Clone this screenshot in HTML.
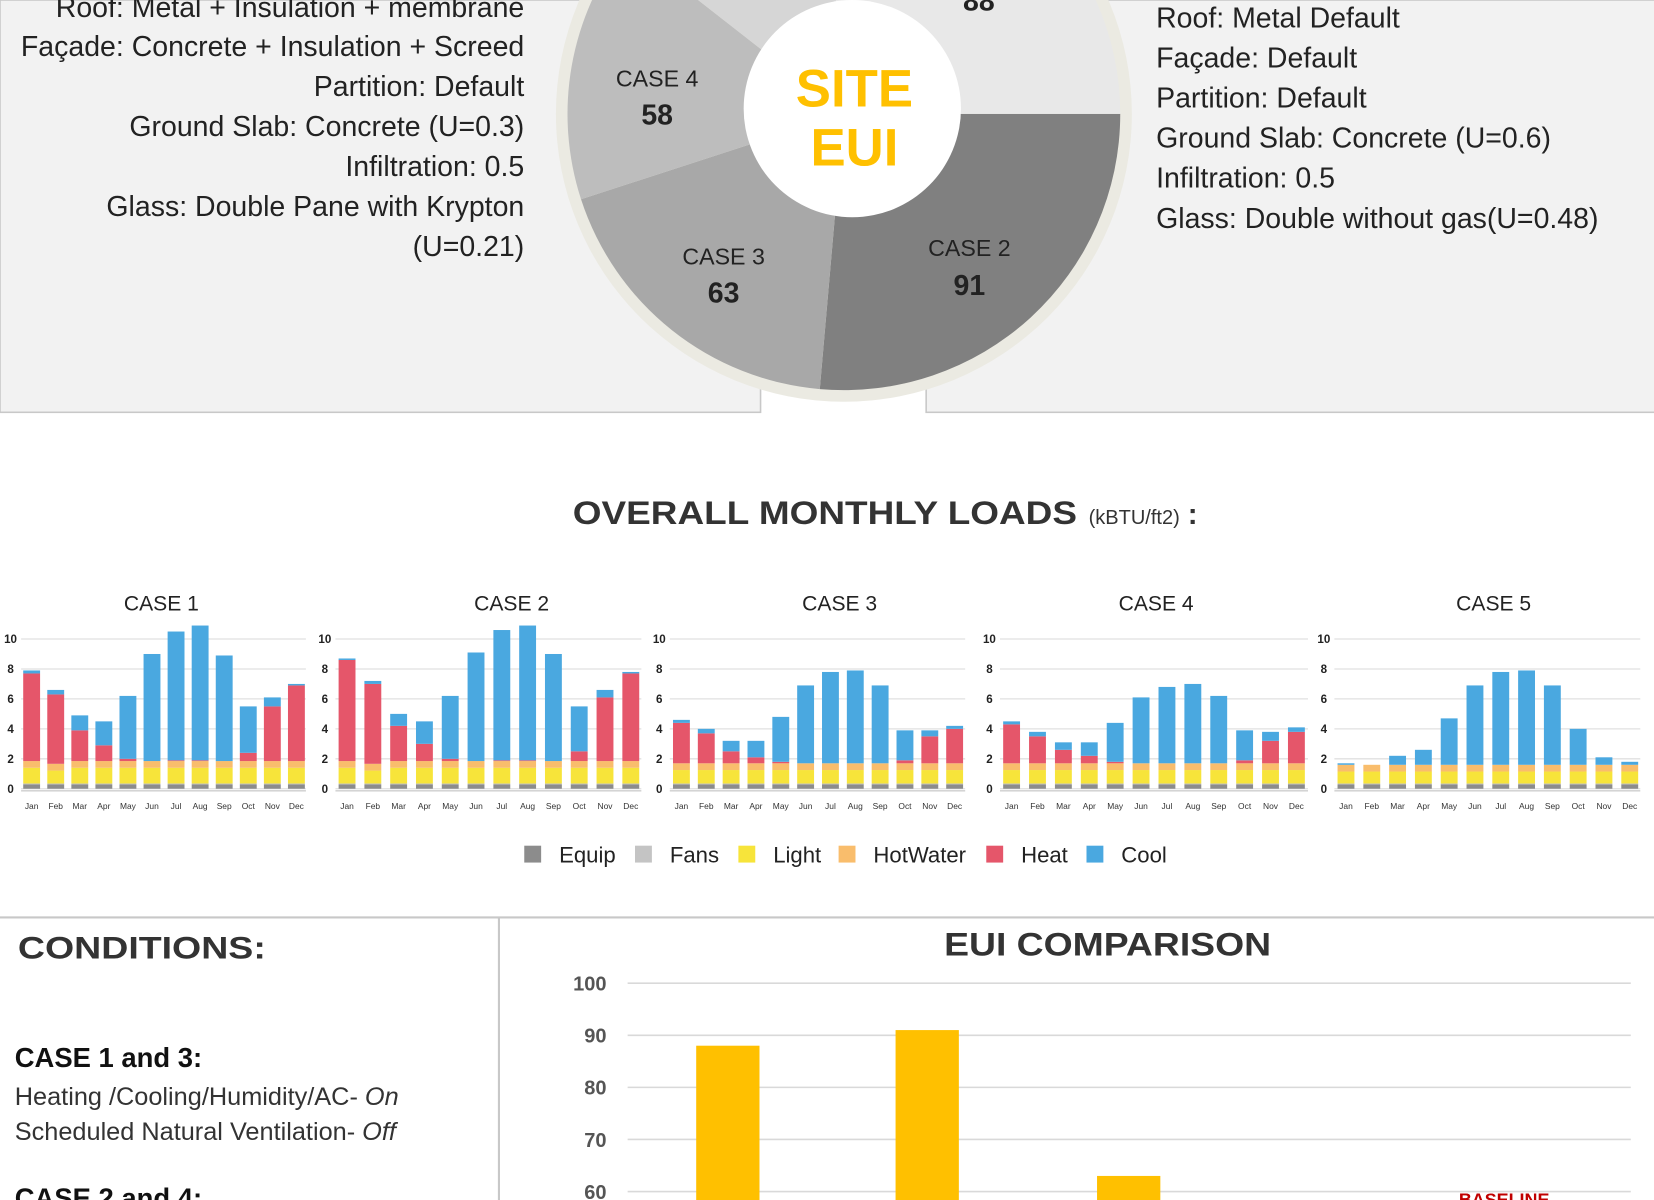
<!DOCTYPE html>
<html><head><meta charset="utf-8"><style>
html,body{margin:0;padding:0;background:#fff;overflow:hidden}
svg{display:block}
text{font-family:"Liberation Sans",sans-serif}
</style></head><body>
<svg id="s" width="1654" height="1200" viewBox="0 0 1568 1138" preserveAspectRatio="none" xmlns="http://www.w3.org/2000/svg">
<rect x="0" y="0" width="1568" height="1138" fill="#fff"/>
<rect x="0" y="0" width="721" height="391" fill="#f2f2f2" stroke="#c8c8c8" stroke-width="1.5"/>
<rect x="878" y="0" width="700" height="391" fill="#f2f2f2" stroke="#c8c8c8" stroke-width="1.5"/>
<g font-size="27" fill="#222" text-anchor="end">
<text x="497" y="16">Roof: Metal + Insulation + membrane</text>
<text x="497" y="53">Façade: Concrete + Insulation + Screed</text>
<text x="497" y="91">Partition: Default</text>
<text x="497" y="129">Ground Slab: Concrete (U=0.3)</text>
<text x="497" y="167">Infiltration: 0.5</text>
<text x="497" y="205">Glass: Double Pane with Krypton</text>
<text x="497" y="243">(U=0.21)</text>
</g>
<g font-size="27" fill="#222">
<text x="1096" y="26">Roof: Metal Default</text>
<text x="1096" y="64">Façade: Default</text>
<text x="1096" y="102">Partition: Default</text>
<text x="1096" y="140">Ground Slab: Concrete (U=0.6)</text>
<text x="1096" y="178">Infiltration: 0.5</text>
<text x="1096" y="216">Glass: Double without gas(U=0.48)</text>
</g>
<circle cx="800" cy="108" r="273" fill="#ebeae2"/>
<g id="pie"></g>
<circle cx="808" cy="103" r="103" fill="#fff"/>
<g font-family="Liberation Sans" font-weight="bold" fill="#ffc000" font-size="50" text-anchor="middle">
<text x="810" y="101">SITE</text><text x="810" y="157">EUI</text></g>
<g fill="#222" text-anchor="middle" font-size="22">
<text x="623" y="82">CASE 4</text><text x="623" y="118" font-weight="bold" font-size="27">58</text>
<text x="686" y="251">CASE 3</text><text x="686" y="287" font-weight="bold" font-size="27">63</text>
<text x="919" y="243">CASE 2</text><text x="919" y="280" font-weight="bold" font-size="27">91</text>
<text x="928" y="10" font-weight="bold" font-size="27">88</text>
</g>
<text x="543" y="497" font-size="31" font-weight="bold" fill="#333" textLength="478" lengthAdjust="spacingAndGlyphs">OVERALL MONTHLY LOADS</text>
<text x="1032" y="497" font-size="19" fill="#333">(kBTU/ft2)</text>
<text x="1126" y="497" font-size="28" font-weight="bold" fill="#333">:</text>
<g id="charts"></g>
<g id="legend" font-size="21" fill="#222"></g>
<line x1="0" y1="870" x2="1568" y2="870" stroke="#c8c8c8" stroke-width="2"/>
<line x1="473" y1="870" x2="473" y2="1138" stroke="#c8c8c8" stroke-width="2"/>
<text x="17" y="909" font-size="30" font-weight="bold" fill="#333" textLength="235" lengthAdjust="spacingAndGlyphs">CONDITIONS:</text>
<text x="14" y="1012" font-size="26" font-weight="bold" fill="#111">CASE 1 and 3:</text>
<text x="14" y="1048" font-size="24" fill="#333">Heating /Cooling/Humidity/AC- <tspan font-style="italic">On</tspan></text>
<text x="14" y="1081" font-size="24" fill="#333">Scheduled Natural Ventilation- <tspan font-style="italic">Off</tspan></text>
<text x="14" y="1145" font-size="26" font-weight="bold" fill="#111">CASE 2 and 4:</text>
<text x="1050" y="906" font-size="31" font-weight="bold" fill="#333" text-anchor="middle" textLength="310" lengthAdjust="spacingAndGlyphs">EUI COMPARISON</text>
<g id="eui"></g>
<text x="1383" y="1143" font-size="17" font-weight="bold" fill="#c00000">BASELINE</text>
</svg>
<script>
var NS="http://www.w3.org/2000/svg";
function el(p,t,a,txt){var e=document.createElementNS(NS,t);for(var k in a)e.setAttribute(k,a[k]);if(txt!=null)e.textContent=txt;p.appendChild(e);return e;}
// pie
var pie=document.getElementById("pie"),cx=800,cy=108,r=262;
var sl=[[0,95,"#808080"],[95,162,"#a8a8a8"],[162,218,"#bdbdbd"],[218,266,"#d6d6d6"],[266,360,"#e8e8e8"]];
sl.forEach(function(s){var a=s[0]*Math.PI/180,b=s[1]*Math.PI/180;
el(pie,"path",{d:"M"+cx+","+cy+"L"+(cx+r*Math.cos(a))+","+(cy+r*Math.sin(a))+"A"+r+","+r+" 0 0 1 "+(cx+r*Math.cos(b))+","+(cy+r*Math.sin(b))+"Z",fill:s[2]});});
// charts
var C=document.getElementById("charts");
var charts=[
{t:"CASE 1",x0:20,x1:290,j:30,d:281,tx:153,heat:[7.7,6.3,3.9,2.9,2.0,1.8,1.9,1.9,1.8,2.4,5.5,6.9],tot:[7.9,6.6,4.9,4.5,6.2,9.0,10.5,10.9,8.9,5.5,6.1,7.0],base:1.85},
{t:"CASE 2",x0:318,x1:608,j:329,d:598,tx:485,heat:[8.6,7.0,4.2,3.0,2.0,1.8,1.9,1.9,1.8,2.5,6.1,7.7],tot:[8.7,7.2,5.0,4.5,6.2,9.1,10.6,10.9,9.0,5.5,6.6,7.8],base:1.85},
{t:"CASE 3",x0:635,x1:915,j:646,d:905,tx:796,heat:[4.4,3.7,2.5,2.1,1.8,1.7,1.7,1.7,1.7,1.9,3.5,4.0],tot:[4.6,4.0,3.2,3.2,4.8,6.9,7.8,7.9,6.9,3.9,3.9,4.2],base:1.7},
{t:"CASE 4",x0:948,x1:1240,j:959,d:1229,tx:1096,heat:[4.3,3.5,2.6,2.2,1.8,1.7,1.7,1.7,1.7,1.9,3.2,3.8],tot:[4.5,3.8,3.1,3.1,4.4,6.1,6.8,7.0,6.2,3.9,3.8,4.1],base:1.7},
{t:"CASE 5",x0:1265,x1:1555,j:1276,d:1545,tx:1416,heat:[1.6,1.4,1.6,1.6,1.6,1.6,1.6,1.6,1.6,1.6,1.6,1.6],tot:[1.7,1.5,2.2,2.6,4.7,6.9,7.8,7.9,6.9,4.0,2.1,1.8],base:1.6}];
var mon=["Jan","Feb","Mar","Apr","May","Jun","Jul","Aug","Sep","Oct","Nov","Dec"];
var Y0=748,U=14.2;
charts.forEach(function(c){
 el(C,"text",{x:c.tx,y:579,"font-size":20,fill:"#222","text-anchor":"middle"},c.t);
 for(var v=0;v<=10;v+=2){var y=Y0-v*U;el(C,"line",{x1:c.x0,x2:c.x1,y1:y,y2:y,stroke:"#e0e0e0","stroke-width":1.2});
  el(C,"text",{x:c.x0-10,y:y+4,"font-size":11,"font-weight":"bold",fill:"#222","text-anchor":"middle"},v);}
 el(C,"line",{x1:c.x0,x2:c.x1,y1:Y0+2,y2:Y0+2,stroke:"#bbb","stroke-width":1});
 var sp=(c.d-c.j)/11,w=16;
 for(var i=0;i<12;i++){var x=c.j+i*sp-w/2;
  var b=c.base*(c.t=="CASE 2"&&i==1||c.t=="CASE 1"&&i==1?0.9:1);
  var segs=[[0,0.3,"#8c8c8c"],[0.3,0.35,"#c4c4c4"],[0.35,b-0.45,"#f7e43a"],[b-0.45,b,"#f9bd6c"],[b,Math.max(b,c.heat[i]),"#e5566a"],[Math.max(b,c.heat[i]),c.tot[i],"#4aa8e0"]];
  segs.forEach(function(s){if(s[1]>s[0])el(C,"rect",{x:x,y:Y0-s[1]*U,width:w,height:(s[1]-s[0])*U,fill:s[2]});});
  el(C,"text",{x:c.j+i*sp,y:767,"font-size":8,fill:"#333","text-anchor":"middle"},mon[i]);
 }
});
var L=document.getElementById("legend");
[[505,"#8c8c8c","Equip"],[610,"#c4c4c4","Fans"],[708,"#f7e43a","Light"],[803,"#f9bd6c","HotWater"],[943,"#e5566a","Heat"],[1038,"#4aa8e0","Cool"]].forEach(function(l){
 el(L,"rect",{x:l[0]-8,y:802,width:16,height:16,fill:l[1]});el(L,"text",{x:l[0]+25,y:818},l[2]);});
var E=document.getElementById("eui");
for(var v=60;v<=100;v+=10){var y=1130-(v-60)*4.94;el(E,"line",{x1:595,x2:1546,y1:y,y2:y,stroke:"#d9d9d9","stroke-width":1.5});
 el(E,"text",{x:575,y:y+7,"font-size":19,"font-weight":"bold",fill:"#555","text-anchor":"end"},v);}
[[660,88],[849,91],[1040,63]].forEach(function(b){var y=1130-(b[1]-60)*4.94;el(E,"rect",{x:b[0],y:y,width:60,height:1140-y,fill:"#ffc000"});});
</script>
</body></html>
